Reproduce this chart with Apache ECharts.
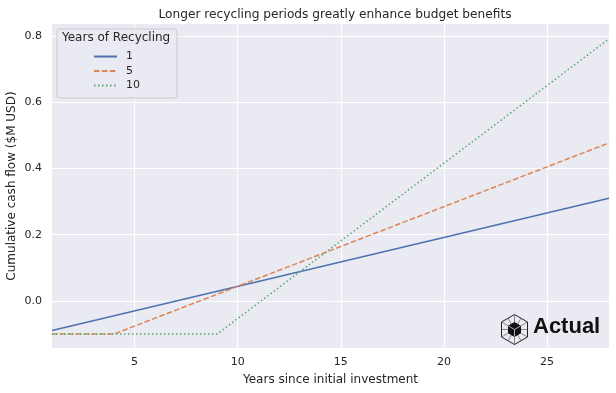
<!DOCTYPE html>
<html>
<head>
<meta charset="utf-8">
<script src="https://cdn.jsdelivr.net/npm/echarts@6/dist/echarts.min.js"></script>
<style>html,body{margin:0;padding:0;background:#fff;}#c{width:616px;height:393px;}</style>
</head>
<body>
<div id="c"></div>
<script>
const seriesNames = ['1', '5', '10'];
const yearsOne = [1, 28];
const cashOne = [-0.089, 0.31];
const yearsFive = [1, 4, 28];
const cashFive = [-0.1, -0.1, 0.477];
const yearsTen = [1, 9, 28];
const cashTen = [-0.1, -0.1, 0.791];
const xTicks = [5, 10, 15, 20, 25];
const yTicks = [0.0, 0.2, 0.4, 0.6, 0.8];

const font = 'DejaVu Sans';
const txt = '#262626';
const pairs = (xs, ys) => xs.map((x, i) => [x, ys[i]]);

const chart = echarts.init(document.getElementById('c'), null, {renderer: 'canvas'});
const mk = (name, data, color, type) => ({
  name: name, type: 'line', data: data, showSymbol: false, symbol: 'none',
  lineStyle: {color: color, width: 1.5, type: type}, itemStyle: {color: color},
  z: 3, animation: false
});
const gridLines = {
  type: 'line', data: [], silent: true, z: 1,
  markLine: {
    silent: true, symbol: 'none', animation: false, label: {show: false}, z: 1,
    lineStyle: {color: '#ffffff', width: 1, type: 'solid'},
    emphasis: {disabled: true},
    data: xTicks.map(v => ({xAxis: v})).concat(yTicks.map(v => ({yAxis: v})))
  }
};
chart.setOption({
  animation: false,
  textStyle: {fontFamily: font},
  title: {
    text: 'Longer recycling periods greatly enhance budget benefits',
    left: 330, top: 4, textAlign: 'center',
    textStyle: {fontFamily: font, fontSize: 12.2, fontWeight: 'normal', color: txt}
  },
  grid: {left: 52, right: 7, top: 24, bottom: 45, show: true, backgroundColor: '#EAEAF2', borderWidth: 0,
    containLabel: false, outerBoundsMode: 'none'},
  xAxis: {
    type: 'value', min: 1, max: 28,
    name: 'Years since initial investment', nameLocation: 'middle', nameGap: 26, nameMoveOverlap: false,
    nameTextStyle: {fontFamily: font, fontSize: 12, color: txt},
    axisLine: {show: false}, axisTick: {show: false},
    axisLabel: {fontFamily: font, fontSize: 11, color: txt, margin: 9, customValues: xTicks},
    splitLine: {show: false}
  },
  yAxis: {
    type: 'value', min: -0.142, max: 0.836,
    name: 'Cumulative cash flow ($M USD)', nameLocation: 'middle', nameGap: 34, nameRotate: 90, nameMoveOverlap: false,
    nameTextStyle: {fontFamily: font, fontSize: 12, color: txt},
    axisLine: {show: false}, axisTick: {show: false},
    axisLabel: {fontFamily: font, fontSize: 11, color: txt, margin: 10, customValues: yTicks,
      formatter: v => Number(v).toFixed(1)},
    splitLine: {show: false}
  },
  legend: {
    data: seriesNames, orient: 'vertical', left: 57, top: 29,
    padding: [22, 37, 7, 36], itemGap: 3.5, itemWidth: 23, itemHeight: 12,
    backgroundColor: 'rgba(234,234,242,0.85)', borderColor: '#cccccc', borderWidth: 1, borderRadius: 3,
    textStyle: {fontFamily: font, fontSize: 11, color: txt, padding: [0, 0, 0, 4]},
    itemStyle: {opacity: 0},
    z: 5
  },
  graphic: [
    {type: 'text', left: 62, top: 32, z: 10, style: {text: 'Years of Recycling', font: '12px "DejaVu Sans"', fill: txt}},
    {type: 'group', left: 499, top: 312, z: 10, children: [
      {type: 'polygon', shape: {points: [[14,0],[27,7.5],[27,22.5],[14,30],[1,22.5],[1,7.5]]}, style: {fill: 'none', stroke: '#222', lineWidth: 1}},
      {type: 'polyline', shape: {points: [[7.5,3.75],[20.5,26.25]]}, style: {stroke: '#444', lineWidth: 0.6}},
      {type: 'polyline', shape: {points: [[20.5,3.75],[7.5,26.25]]}, style: {stroke: '#444', lineWidth: 0.6}},
      {type: 'polyline', shape: {points: [[1,15],[27,15]]}, style: {stroke: '#444', lineWidth: 0.6}},
      {type: 'polyline', shape: {points: [[1,7.5],[27,22.5]]}, style: {stroke: '#444', lineWidth: 0.6}},
      {type: 'polyline', shape: {points: [[27,7.5],[1,22.5]]}, style: {stroke: '#444', lineWidth: 0.6}},
      {type: 'polyline', shape: {points: [[14,0],[14,30]]}, style: {stroke: '#444', lineWidth: 0.6}},
      {type: 'polygon', shape: {points: [[14,8],[20,11.5],[20,18.5],[14,22],[8,18.5],[8,11.5]]}, style: {fill: '#111', stroke: '#111', lineWidth: 1}},
      {type: 'polyline', shape: {points: [[8,11.5],[14,15],[20,11.5]]}, style: {stroke: '#eee', lineWidth: 0.7}},
      {type: 'polyline', shape: {points: [[14,15],[14,22]]}, style: {stroke: '#eee', lineWidth: 0.7}}
    ]},
    {type: 'text', left: 533, top: 316, z: 10, style: {text: 'Actual', font: 'bold 22px "Liberation Sans"', fill: '#111'}}
  ],
  series: [
    gridLines,
    mk(seriesNames[0], pairs(yearsOne, cashOne), '#4C72B0', 'solid'),
    mk(seriesNames[1], pairs(yearsFive, cashFive), '#DD8452', [5.5, 2.4]),
    mk(seriesNames[2], pairs(yearsTen, cashTen), '#55A868', [1.5, 2.5])
  ]
});
</script>
</body>
</html>
